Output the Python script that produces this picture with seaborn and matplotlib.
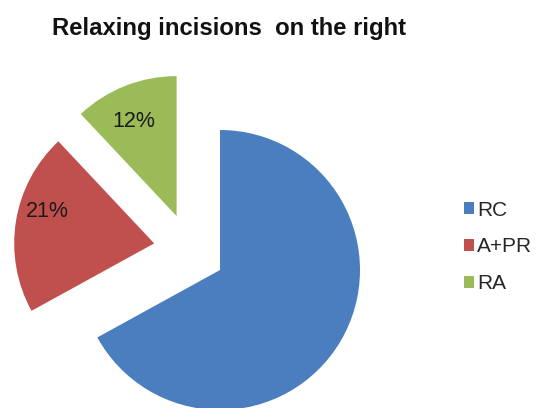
import matplotlib
matplotlib.use("Agg")
import matplotlib.pyplot as plt
import seaborn as sns
from matplotlib.patches import Patch

categories = ["RC", "A+PR", "RA"]
values = [67, 21, 12]
shown_labels = ["", "21%", "12%"]
colors = ["#4A7EBF", "#C0504D", "#9BBB59"]
title = "Relaxing incisions  on the right"

# style: how far each slice is pulled out (data units, radius = 1)
pull = [(0.0, 0.0), (-0.47, 0.19), (-0.31, 0.385)]
# style: small nudges of the percentage labels (data units)
label_nudge = [(0.0, 0.0), (0.03, 0.10), (-0.01, -0.07)]

sns.set_theme(style="white")
plt.rcParams['font.family'] = ['Liberation Sans', 'DejaVu Sans']

fig = plt.figure(figsize=(5.41, 4.08), dpi=100)
ax = fig.add_axes([0, 0, 1, 1])

lab_iter = iter(shown_labels)
wedges, texts, autotexts = ax.pie(
    values, colors=colors, startangle=90, counterclock=False,
    radius=1.0,
    autopct=lambda p: next(lab_iter), pctdistance=0.8,
    wedgeprops=dict(linewidth=0),
    textprops=dict(fontsize=15.5, color="#1a1a1a"),
)
for w, t, (dx, dy), (nx, ny) in zip(wedges, autotexts, pull, label_nudge):
    w.set_center((dx, dy))
    x, y = t.get_position()
    t.set_position((x + dx + nx, y + dy + ny))

ax.set_xlim(-220/140, (541-220)/140)
ax.set_ylim((270-408)/140, 270/140)
ax.set_aspect("equal")
ax.axis("off")

fig.text(229/541, 1 - 28/408, title, ha="center", va="center",
         fontsize=17.2, fontweight="bold", color="#111111")

handles = [Patch(facecolor=c, edgecolor="none") for c in colors]
fig.legend(handles, categories, loc="center left",
           bbox_to_anchor=(445/541, 1 - 247/408), frameon=False,
           fontsize=15, labelspacing=0.85, handlelength=0.5,
           handleheight=0.5, handletextpad=0.15, labelcolor="#262626")

fig.savefig("out.png", dpi=100)
